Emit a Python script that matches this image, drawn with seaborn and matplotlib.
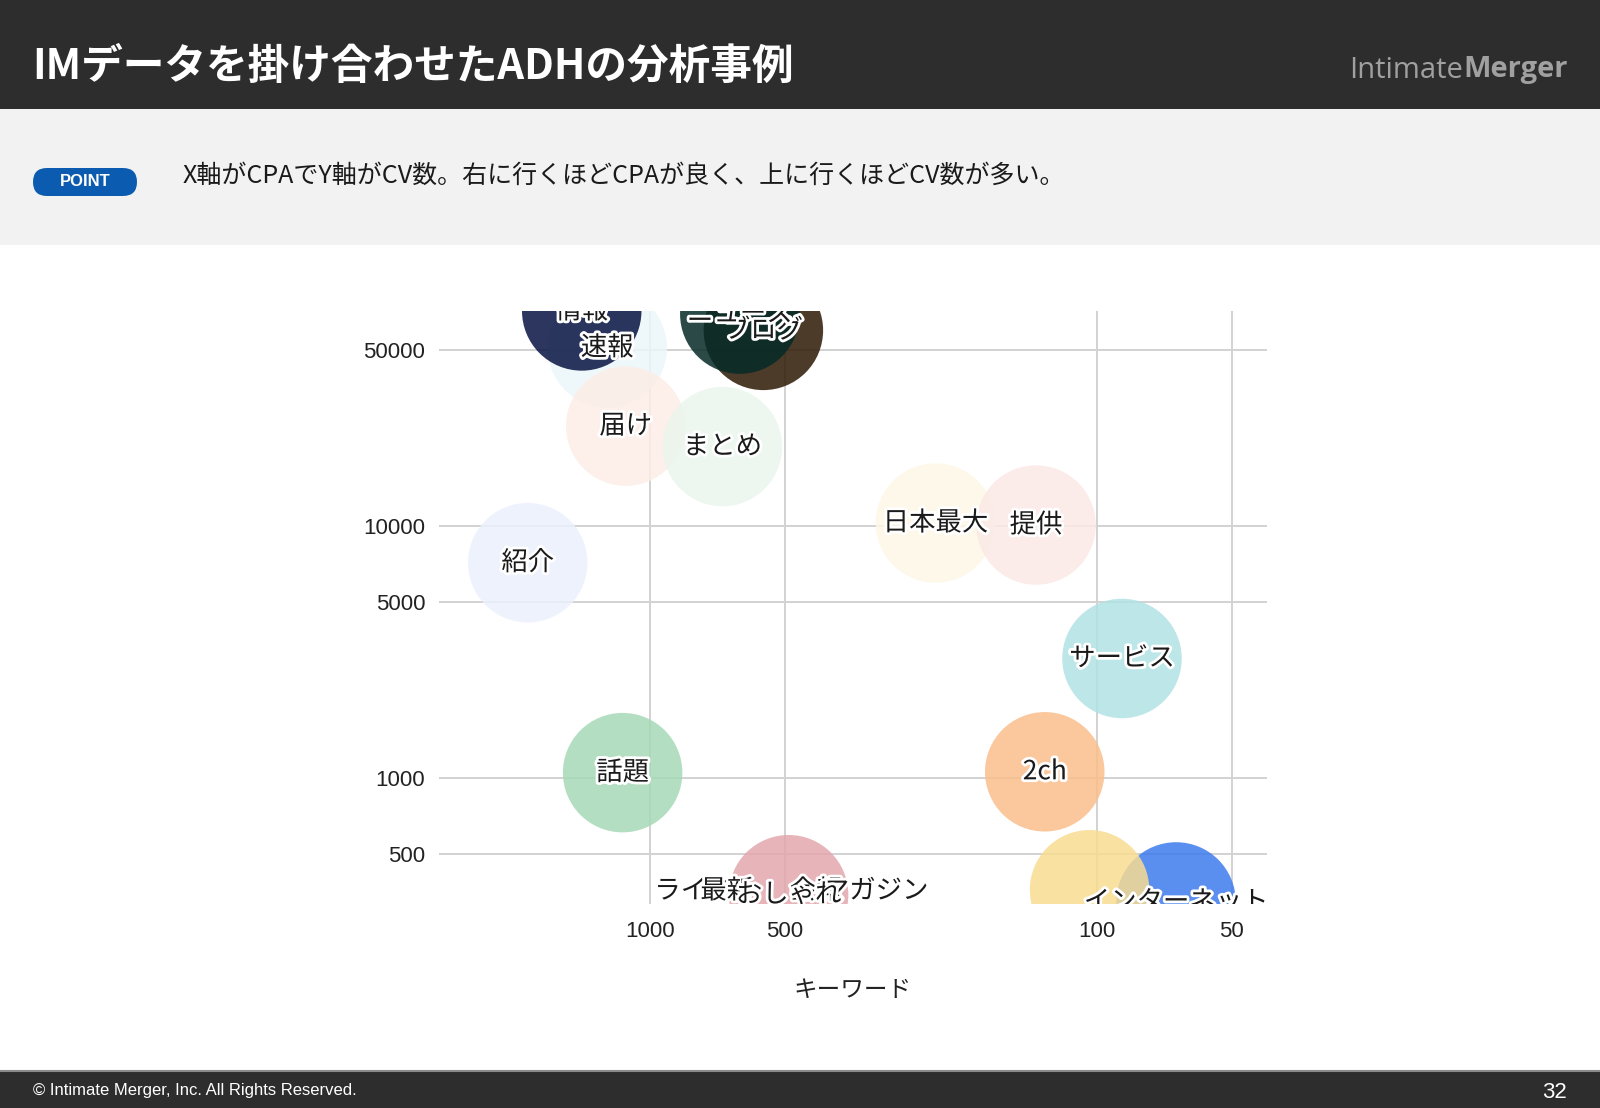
import numpy as np
import pandas as pd
import matplotlib
matplotlib.use('Agg')
import matplotlib.pyplot as plt
import matplotlib.patheffects as pe
from matplotlib.patches import Rectangle, FancyBboxPatch
from matplotlib.ticker import FixedLocator, FixedFormatter, NullLocator
import seaborn as sns

# data: CPA on x (reversed log), CV count on y (log)
keywords = ['速報', '届け', 'まとめ', '紹介', '日本最大', '提供',
            'ライフ', '最新', '会報', 'マガジン',
            'サービス', '話題', '2ch', 'おしゃれ', 'インターネット', '',
            'ブログ', 'ニュース', '情報']
cpa = [1247, 1134, 689, 1878, 230, 137,
       798, 674, 425, 313,
       88, 1152, 131, 490, 66.6, 104,
       558, 630, 1422]
cv = [50900, 24900, 20660, 7155, 10280, 10090,
      357, 357, 357, 357,
      2984, 1052, 1060, 345, 323, 361,
      59700, 69250, 71300]
# bottom row labels have no visible bubble in the picture
has_bubble = [True, True, True, True, True, True,
              False, False, False, False,
              True, True, True, True, True, True,
              True, True, True]
# colours as they look on white
shown_colors = ['#eef8fb', '#fdf0eb', '#edf7f0', '#eef2fd', '#fdf8ea', '#fcecea',
                '#ffffff', '#ffffff', '#ffffff', '#ffffff',
                '#bde6e8', '#b3dfc1', '#fcc89c', '#e6b4b9', '#5a8ff0', '#f9e1a2',
                '#4d3b2a', '#2b4a47', '#2c365f']

x_ticks = [1000, 500, 100, 50]
y_ticks = [500, 1000, 5000, 10000, 50000]

ALPHA = 0.85


def base_color(hexcol, a=ALPHA):
    # colour that gives hexcol when drawn with alpha a on white
    rgb = np.array(matplotlib.colors.to_rgb(hexcol))
    return tuple(np.clip((rgb - (1 - a)) / a, 0, 1))


df = pd.DataFrame({'keyword': keywords, 'cpa': cpa, 'cv': cv, 'bubble': has_bubble})
palette = {k: base_color(c) for k, c in zip(keywords, shown_colors)}

sns.set_theme(style='white')
plt.rcParams['font.family'] = ['Noto Sans CJK JP', 'DejaVu Sans']

W, H = 1600, 1108
fig = plt.figure(figsize=(W / 100, H / 100), dpi=100)

# page decoration in pixel coordinates
bg = fig.add_axes([0, 0, 1, 1])
bg.set_xlim(0, W)
bg.set_ylim(H, 0)
bg.axis('off')
bg.add_patch(Rectangle((0, 0), W, 109, color='#2d2d2d', lw=0))
bg.add_patch(Rectangle((0, 109), W, 136, color='#f2f2f2', lw=0))
bg.add_patch(Rectangle((0, 1071), W, H - 1071, color='#2d2d2d', lw=0))
bg.plot([0, W], [1071, 1071], color='#8a8a8a', lw=1.5)
bg.add_patch(FancyBboxPatch((33, 168), 104, 28, boxstyle='round,pad=0,rounding_size=14',
                            color='#0b5cb0', lw=0))

bg.text(32, 67, 'IMデータを掛け合わせたADHの分析事例', color='white', fontsize=30,
        fontweight='bold', va='center', ha='left')
bg.text(1463, 70, 'Intimate', color='#a0a0a0', fontsize=21, va='center', ha='right',
        family=['Open Sans', 'DejaVu Sans'])
bg.text(1463, 70, 'Merger', color='#a0a0a0', fontsize=21, va='center', ha='left',
        fontweight='bold', family=['Open Sans', 'DejaVu Sans'])
bg.text(85, 182, 'POINT', color='white', fontsize=12, fontweight='bold', va='center',
        ha='center', family=['Liberation Sans', 'DejaVu Sans'])
bg.text(183, 176, 'X軸がCPAでY軸がCV数。右に行くほどCPAが良く、上に行くほどCV数が多い。',
        color='#1a1a1a', fontsize=18, va='center', ha='left')
bg.text(33, 1090, '© Intimate Merger, Inc. All Rights Reserved.', color='white', fontsize=12,
        va='center', ha='left', family=['Liberation Sans', 'DejaVu Sans'])
bg.text(1567, 1092, '32', color='white', fontsize=16, va='center', ha='right',
        family=['Liberation Sans', 'DejaVu Sans'])

# bubble chart
ax = fig.add_axes([439 / W, 1 - 904 / H, 828 / W, 593 / H])
ax.set_facecolor('none')
ax.set_xscale('log')
ax.set_yscale('log')
sns.scatterplot(data=df[df['bubble']], x='cpa', y='cv', hue='keyword', palette=palette,
                s=7400, alpha=ALPHA, linewidth=0, legend=False, ax=ax, zorder=3)

for k, xv, yv in zip(keywords, cpa, cv):
    if k:
        ax.text(xv, yv, k, ha='center', va='center', fontsize=19, color='#1a1a1a',
                clip_on=True, zorder=5,
                path_effects=[pe.withStroke(linewidth=4, foreground='white')])

ax.set_xlim(2966, 41.7)
ax.set_ylim(317, 71250)
ax.xaxis.set_major_locator(FixedLocator(x_ticks))
ax.xaxis.set_major_formatter(FixedFormatter([str(v) for v in x_ticks]))
ax.yaxis.set_major_locator(FixedLocator(y_ticks))
ax.yaxis.set_major_formatter(FixedFormatter([str(v) for v in y_ticks]))
ax.xaxis.set_minor_locator(NullLocator())
ax.yaxis.set_minor_locator(NullLocator())
ax.grid(True, which='major', color='#d2d2d2', lw=1.4, zorder=0)
ax.set_axisbelow(True)
for s in ax.spines.values():
    s.set_visible(False)
ax.tick_params(axis='both', length=0, labelsize=16, colors='#222222')
ax.tick_params(axis='x', pad=12)
ax.tick_params(axis='y', pad=10)
for lab in ax.get_xticklabels() + ax.get_yticklabels():
    lab.set_family(['Liberation Sans', 'DejaVu Sans'])
ax.set_xlabel('キーワード', fontsize=17, color='#222222', labelpad=27)
ax.set_ylabel('')

fig.savefig('out.png', dpi=100, facecolor='white')
